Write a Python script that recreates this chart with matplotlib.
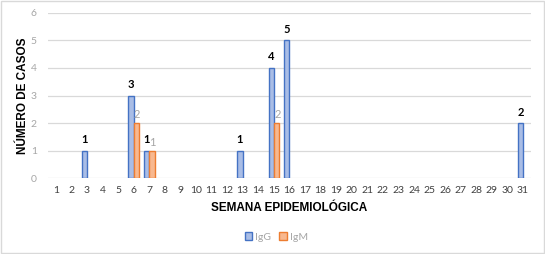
import matplotlib.pyplot as plt
import numpy as np
from matplotlib.patches import Rectangle, Patch

weeks = list(range(1, 32))
igg_weeks = [3, 6, 7, 13, 15, 16, 31]
igg_vals = [1, 3, 1, 1, 4, 5, 2]
igm_weeks = [6, 7, 15]
igm_vals = [2, 1, 2]

igg_color, igg_edge = '#A9BDE6', '#4472C4'
igm_color, igm_edge = '#F8B88F', '#ED7D31'

fig = plt.figure(figsize=(5.45, 2.54), dpi=100)
ax = fig.add_axes([0.088, 0.299, 0.886, 0.65])

w = 0.34
ax.bar(np.array(igg_weeks) - w / 2, igg_vals, w, color=igg_color, edgecolor=igg_edge, linewidth=1.0)
ax.bar(np.array(igm_weeks) + w / 2, igm_vals, w, color=igm_color, edgecolor=igm_edge, linewidth=1.0)

for xi, v in zip(igg_weeks, igg_vals):
    ax.text(xi - w / 2, v + 0.2, str(v), ha='center', va='bottom',
            fontsize=8, fontweight='bold', color='black', family='Lato')
for xi, v in zip(igm_weeks, igm_vals):
    ax.text(xi + w / 2 + 0.05, v + 0.1, str(v), ha='center', va='bottom',
            fontsize=8, color='#A6A6A6', family='Lato')

ax.set_xlim(0.5, 31.5)
ax.set_ylim(0, 6)
ax.set_xticks(weeks)
ax.set_xticklabels([str(wk) for wk in weeks], family='Lato', fontsize=7.5, color='#404040')
ax.set_yticks(range(0, 7))
ax.set_yticklabels([str(i) for i in range(0, 7)], family='Lato', fontsize=7.5, color='#A6A6A6')
ax.tick_params(length=0, pad=6)
ax.tick_params(axis='y', pad=8)
ax.grid(axis='y', color='#D9D9D9', linewidth=0.9)
ax.set_axisbelow(True)
for s in ax.spines.values():
    s.set_visible(False)

ax.set_xlabel('SEMANA EPIDEMIOLÓGICA', family='Liberation Sans', fontweight='bold',
              fontsize=8.5, labelpad=5)
ax.set_ylabel('NÚMERO DE CASOS', family='Liberation Sans', fontweight='bold',
              fontsize=8.5, labelpad=1)

handles = [Patch(facecolor=igg_color, edgecolor=igg_edge, label='IgG'),
           Patch(facecolor=igm_color, edgecolor=igm_edge, label='IgM')]
leg = fig.legend(handles=handles, loc='center', bbox_to_anchor=(0.507, 0.067), ncol=2,
                 frameon=False, handlelength=0.7, handleheight=0.7, handletextpad=0.3,
                 columnspacing=0.8, prop={'family': 'Lato', 'size': 7.5})
for t in leg.get_texts():
    t.set_color('#A6A6A6')

fig.patches.append(Rectangle((0.002, 0.004), 0.996, 0.992, transform=fig.transFigure,
                             fill=False, edgecolor='#D9D9D9', linewidth=1.0))

fig.savefig('out.png', dpi=100)
